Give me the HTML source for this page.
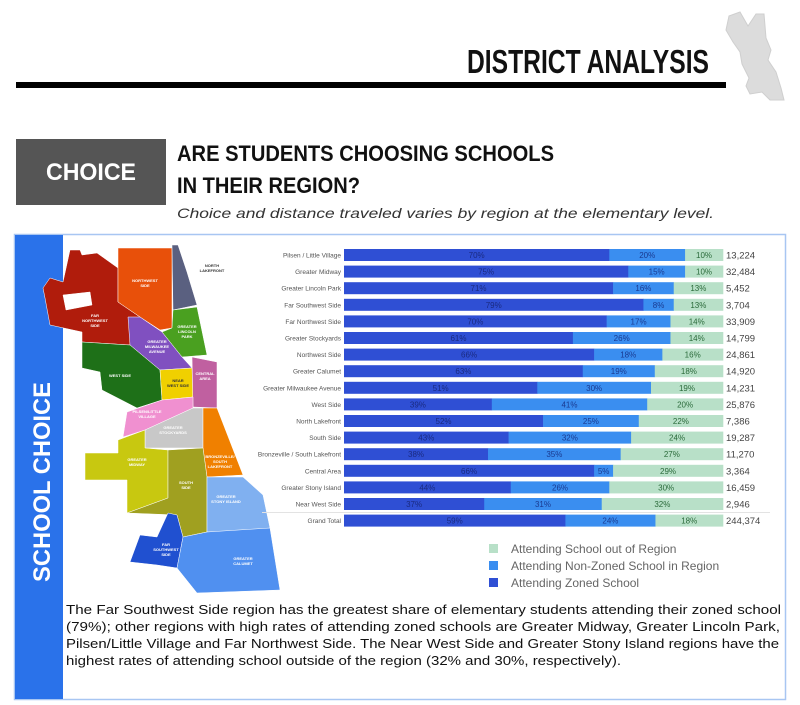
<!DOCTYPE html>
<html><head><meta charset="utf-8"><style>
html,body{margin:0;padding:0;background:#fff;}
svg{display:block;font-family:"Liberation Sans",sans-serif;}
</style></head><body>
<svg width="800" height="705" viewBox="0 0 800 705" xmlns="http://www.w3.org/2000/svg">
<!-- Header -->
<text x="467" y="73" font-size="33" font-weight="bold" fill="#111" textLength="242" lengthAdjust="spacingAndGlyphs">DISTRICT ANALYSIS</text>
<rect x="16" y="82" width="710" height="6" fill="#000"/>
<path d="M729,16 L740,12 L748,26 L756,14 L764,14 L766,38 L771,50 L768,60 L776,72 L781,88 L784,100 L770,100 L762,92 L750,94 L746,86 L749,78 L742,64 L740,52 L733,42 L726,30 Z" fill="#dcdcdc" stroke="#cfcfcf" stroke-width="1"/>
<!-- Choice box -->
<rect x="16" y="139" width="150" height="66" fill="#555"/>
<text x="91" y="180" font-size="24" font-weight="bold" fill="#fff" text-anchor="middle" textLength="90" lengthAdjust="spacingAndGlyphs">CHOICE</text>
<text x="177" y="161" font-size="22" font-weight="bold" fill="#111" textLength="377" lengthAdjust="spacingAndGlyphs">ARE STUDENTS CHOOSING SCHOOLS</text>
<text x="177" y="193" font-size="22" font-weight="bold" fill="#111" textLength="183" lengthAdjust="spacingAndGlyphs">IN THEIR REGION?</text>
<text x="177" y="218" font-size="14" font-style="italic" fill="#333" textLength="537" lengthAdjust="spacingAndGlyphs">Choice and distance traveled varies by region at the elementary level.</text>
<!-- Frame -->
<rect x="14.5" y="234.5" width="771" height="465" fill="#fff" stroke="#a8c6f2" stroke-width="1.5"/>
<rect x="15" y="235" width="48" height="464" fill="#2a72ea"/>
<text transform="translate(50,582) rotate(-90)" font-size="24" font-weight="bold" fill="#fff" textLength="200" lengthAdjust="spacingAndGlyphs">SCHOOL CHOICE</text>
<!-- Map -->
<g stroke="#fff" stroke-width="0.5">
<polygon fill="#b01c0c" points="70,250 80,250 82,255 97,253 118,268 118,302 140,317 130,345 82,342 82,332 50,325 45,298 43,288 50,278 63,282"/>
<polygon fill="#fff" points="63,295 90,292 92,305 66,310"/>
<polygon fill="#e8500a" points="118,248 172,248 172,328 160,330 140,317 118,302"/>
<polygon fill="#5a6080" points="172,245 178,245 187,272 197,305 173,310"/>
<polygon fill="#4aa020" points="173,310 197,307 207,355 182,357 162,332 172,328"/>
<polygon fill="#8050c0" points="128,317 140,317 162,332 182,357 192,368 160,370 130,345"/>
<polygon fill="#1e7018" points="82,342 130,345 160,370 162,400 137,408 102,390 100,372 82,368"/>
<polygon fill="#f0d000" points="160,370 192,368 193,397 162,400"/>
<polygon fill="#c060a0" points="192,357 217,362 217,408 193,407"/>
<polygon fill="#f090d0" points="127,412 162,400 193,397 193,408 145,430 123,437"/>
<polygon fill="#c8c8c8" points="145,430 193,408 203,408 203,448 145,448"/>
<polygon fill="#f08000" points="203,408 217,408 243,475 207,477 203,448"/>
<polygon fill="#c8c810" points="118,440 145,430 145,448 168,450 168,498 127,513 127,480 85,480 85,453 118,453"/>
<polygon fill="#a0a020" points="168,450 203,448 207,477 207,532 183,537 177,515 127,513 168,498"/>
<polygon fill="#80b0f0" points="207,477 243,477 263,495 270,528 252,532 207,532"/>
<polygon fill="#2050d0" points="168,513 177,515 183,537 177,568 157,565 130,562 140,535 157,537"/>
<polygon fill="#5090f0" points="183,537 207,532 270,528 280,590 197,593 177,568"/>
</g>
<g font-size="4" font-weight="bold" fill="#fff" text-anchor="middle">
<text x="95" y="317">FAR</text><text x="95" y="322">NORTHWEST</text><text x="95" y="327">SIDE</text>
<text x="145" y="282">NORTHWEST</text><text x="145" y="287">SIDE</text>
<text x="212" y="267" fill="#333">NORTH</text><text x="212" y="272" fill="#333">LAKEFRONT</text>
<text x="187" y="328">GREATER</text><text x="187" y="333">LINCOLN</text><text x="187" y="338">PARK</text>
<text x="157" y="343">GREATER</text><text x="157" y="348">MILWAUKEE</text><text x="157" y="353">AVENUE</text>
<text x="120" y="377">WEST SIDE</text>
<text x="178" y="382" fill="#333">NEAR</text><text x="178" y="387" fill="#333">WEST SIDE</text>
<text x="205" y="375">CENTRAL</text><text x="205" y="380">AREA</text>
<text x="147" y="413">PILSEN/LITTLE</text><text x="147" y="418">VILLAGE</text>
<text x="173" y="429">GREATER</text><text x="173" y="434">STOCKYARDS</text>
<text x="220" y="458">BRONZEVILLE/</text><text x="220" y="463">SOUTH</text><text x="220" y="468">LAKEFRONT</text>
<text x="137" y="461">GREATER</text><text x="137" y="466">MIDWAY</text>
<text x="186" y="484">SOUTH</text><text x="186" y="489">SIDE</text>
<text x="226" y="498">GREATER</text><text x="226" y="503">STONY ISLAND</text>
<text x="166" y="546">FAR</text><text x="166" y="551">SOUTHWEST</text><text x="166" y="556">SIDE</text>
<text x="243" y="560">GREATER</text><text x="243" y="565">CALUMET</text>
</g>
<!-- Chart -->
<g id="chart"></g>
<line x1="262" y1="512.5" x2="770" y2="512.5" stroke="#e3e3e3" stroke-width="1"/>
<!-- Legend -->
<rect x="489" y="544" width="9" height="9" fill="#b8e0c8"/>
<rect x="489" y="561" width="9" height="9" fill="#3a8ef0"/>
<rect x="489" y="578" width="9" height="9" fill="#2f4fd4"/>
<g font-size="12" fill="#666">
<text x="511" y="553">Attending School out of Region</text>
<text x="511" y="570">Attending Non-Zoned School in Region</text>
<text x="511" y="587">Attending Zoned School</text>
</g>
<!-- Paragraph -->
<g font-size="13" fill="#111">
<text x="66" y="614" textLength="715" lengthAdjust="spacingAndGlyphs">The Far Southwest Side region has the greatest share of elementary students attending their zoned school</text>
<text x="66" y="631" textLength="714" lengthAdjust="spacingAndGlyphs">(79%); other regions with high rates of attending zoned schools are Greater Midway, Greater Lincoln Park,</text>
<text x="66" y="648" textLength="713" lengthAdjust="spacingAndGlyphs">Pilsen/Little Village and Far Northwest Side. The Near West Side and Greater Stony Island regions have the</text>
<text x="66" y="665" textLength="555" lengthAdjust="spacingAndGlyphs">highest rates of attending school outside of the region (32% and 30%, respectively).</text>
</g>
<script>
var rows=[["Pilsen / Little Village",70,20,10,"13,224"],["Greater Midway",75,15,10,"32,484"],["Greater Lincoln Park",71,16,13,"5,452"],["Far Southwest Side",79,8,13,"3,704"],["Far Northwest Side",70,17,14,"33,909"],["Greater Stockyards",61,26,14,"14,799"],["Northwest Side",66,18,16,"24,861"],["Greater Calumet",63,19,18,"14,920"],["Greater Milwaukee Avenue",51,30,19,"14,231"],["West Side",39,41,20,"25,876"],["North Lakefront",52,25,22,"7,386"],["South Side",43,32,24,"19,287"],["Bronzeville / South Lakefront",38,35,27,"11,270"],["Central Area",66,5,29,"3,364"],["Greater Stony Island",44,26,30,"16,459"],["Near West Side",37,31,32,"2,946"],["Grand Total",59,24,18,"244,374"]];
var g=document.getElementById('chart'),ns="http://www.w3.org/2000/svg",x0=344,W=379;
function el(t,a,txt){var e=document.createElementNS(ns,t);for(var k in a)e.setAttribute(k,a[k]);if(txt)e.textContent=txt;g.appendChild(e);return e;}
rows.forEach(function(r,i){var cy=255+i*16.6,y=cy-6,tot=r[1]+r[2]+r[3];
el('text',{x:341,y:cy+2.5,'font-size':6.5,fill:'#555','text-anchor':'end'},r[0]);
var cols=['#2f4fd4','#3a8ef0','#b8e0c8'],tc=['#1a2a80','#1a3a90','#2a6a3a'],x=x0;
for(var j=0;j<3;j++){var w=W*r[j+1]/tot;el('rect',{x:x,y:y,width:w+0.3,height:12,fill:cols[j]});
el('text',{x:x+w/2,y:cy+3,'font-size':8,fill:tc[j],'text-anchor':'middle'},r[j+1]+'%');x+=w;}
el('text',{x:726,y:cy+3.5,'font-size':9.5,fill:'#444','text-anchor':'start'},r[4]);});
</script>
</svg>
</body></html>
